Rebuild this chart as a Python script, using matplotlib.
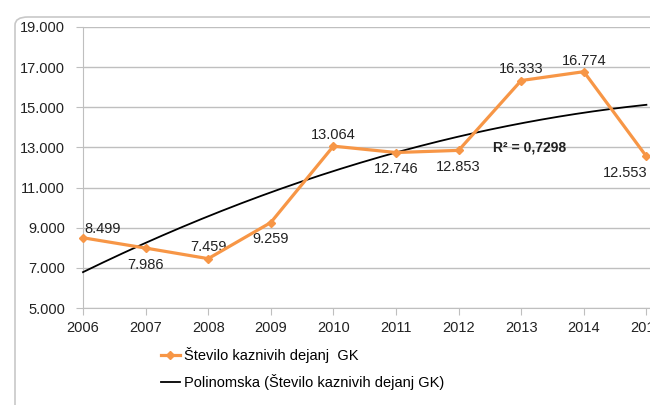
import numpy as np
import matplotlib
matplotlib.use("Agg")
import matplotlib.pyplot as plt
from matplotlib.patches import FancyBboxPatch
from matplotlib.lines import Line2D

years = [2006, 2007, 2008, 2009, 2010, 2011, 2012, 2013, 2014, 2015]
values = [8499, 7986, 7459, 9259, 13064, 12746, 12853, 16333, 16774, 12553]
labels = ["8.499", "7.986", "7.459", "9.259", "13.064", "12.746", "12.853", "16.333", "16.774", "12.553"]
label_pos = ["above", "below", "above", "below", "above", "below", "below", "above", "above", "below"]
yticks = [5000, 7000, 9000, 11000, 13000, 15000, 17000, 19000]
ytick_labels = ["5.000", "7.000", "9.000", "11.000", "13.000", "15.000", "17.000", "19.000"]
series_name = "Število kaznivih dejanj  GK"
trend_name = "Polinomska (Število kaznivih dejanj GK)"
r2_text = "R² = 0,7298"

plt.rcParams['font.family'] = ['Liberation Sans', 'DejaVu Sans']

fig = plt.figure(figsize=(6.5, 4.05), dpi=100)
W, H = 650, 405
frame = FancyBboxPatch((15/W, -20/H), 700/W, 408/H, boxstyle="round,pad=0,rounding_size=0.02",
                       transform=fig.transFigure, fill=False, edgecolor="#c8c8c8", linewidth=1.2)
fig.patches.append(frame)

x = np.arange(len(years))
left = 83
step = 62.6
right_px = left + step * 9.6
ax = fig.add_axes([left / W, (H - 308) / H, (right_px - left) / W, (308 - 27) / H])
ax.set_xlim(0, 9.6)
ax.set_ylim(5000, 19000)

ax.set_yticks(yticks)
ax.set_yticklabels(ytick_labels)
ax.set_xticks(x)
ax.set_xticklabels([str(y) for y in years])
ax.grid(axis='y', color='#bfbfbf', linewidth=1)
ax.set_axisbelow(True)
for s in ['top', 'right']:
    ax.spines[s].set_visible(False)
ax.spines['left'].set_color('#bfbfbf')
ax.spines['bottom'].set_color('#bfbfbf')
ax.tick_params(axis='both', colors='#bfbfbf', labelcolor='#222222', labelsize=10.5, length=5)
ax.tick_params(axis='y', pad=8)
ax.tick_params(axis='x', pad=4)

coef = np.polyfit(x, values, 2)
xs = np.linspace(0, 9, 200)
ax.plot(xs, np.polyval(coef, xs), color='black', linewidth=1.3, zorder=3, clip_on=False)

ax.plot(x, values, color='#F79646', linewidth=2.3, marker='D', markersize=4.5, zorder=4, clip_on=False)

for i, (xi, v, lab, pos) in enumerate(zip(x, values, labels, label_pos)):
    if i == 0:
        ax.annotate(lab, (xi, v), xytext=(1, 1), textcoords='offset points', ha='left', va='bottom',
                    fontsize=10.5, color='#222222')
    elif i == len(x) - 1:
        ax.annotate(lab, (xi, v), xytext=(1, -7), textcoords='offset points', ha='right', va='top',
                    fontsize=10.5, color='#222222')
    elif pos == "above":
        ax.annotate(lab, (xi, v), xytext=(0, 3), textcoords='offset points', ha='center', va='bottom',
                    fontsize=10.5, color='#222222')
    else:
        ax.annotate(lab, (xi, v), xytext=(0, -7), textcoords='offset points', ha='center', va='top',
                    fontsize=10.5, color='#222222')

ax.text(493 / W, (H - 147) / H, r2_text, transform=fig.transFigure, fontsize=10, fontweight='bold',
        color='#222222', va='center', ha='left')

h1 = Line2D([], [], color='#F79646', linewidth=2.3, marker='D', markersize=4.5)
h2 = Line2D([], [], color='black', linewidth=1.3)
fig.legend([h1, h2], [series_name, trend_name], loc='upper left', bbox_to_anchor=(161 / W, (H - 347) / H),
           frameon=False, fontsize=10.5, handlelength=1.3, handletextpad=0.25, labelspacing=0.75,
           borderpad=0, borderaxespad=0)

fig.savefig("out.png", dpi=100)
